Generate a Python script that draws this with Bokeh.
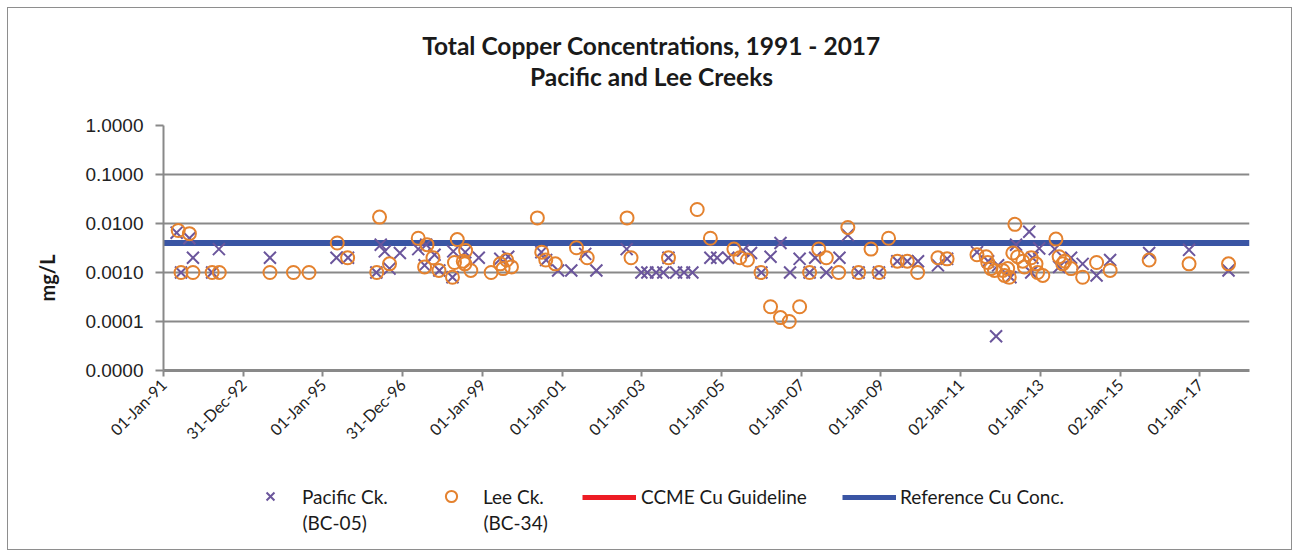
import math
from datetime import datetime
import pandas as pd
from bokeh.plotting import figure
from bokeh.layouts import column
from bokeh.models import (Range1d, FixedTicker, PrintfTickFormatter, DatetimeTickFormatter,
                          Legend, LegendItem, Label)
from bokeh.embed import file_html
from bokeh.resources import INLINE

# ---------------- data (decimal years, mg/L) ----------------
pacific_years = [1991.33, 1991.44, 1991.65, 1991.74, 1992.22, 1992.39, 1993.67, 1995.34, 1995.63,
                 1996.34, 1996.45, 1996.55, 1996.67, 1996.93, 1997.39, 1997.55, 1997.59, 1997.80,
                 1997.92, 1998.25, 1998.27, 1998.57, 1998.91, 1999.45, 1999.65, 2000.48, 2000.60,
                 2000.90, 2001.23, 2001.58, 2001.86, 2002.62, 2002.99, 2003.14, 2003.36, 2003.54,
                 2003.67, 2003.86, 2004.06, 2004.27, 2004.72, 2004.89, 2005.17, 2005.54, 2005.74,
                 2006.00, 2006.23, 2006.48, 2006.72, 2006.96, 2007.21, 2007.35, 2007.63, 2007.96,
                 2008.17, 2008.44, 2008.95, 2009.41, 2009.66, 2009.93, 2010.43, 2010.66, 2011.41,
                 2011.69, 2011.89, 2011.94, 2012.25, 2012.39, 2012.72, 2012.77, 2012.80, 2012.97,
                 2013.36, 2013.47, 2013.77, 2014.06, 2014.41, 2014.75, 2015.73, 2016.73, 2017.72]
pacific_cu = [0.0065, 0.001, 0.005, 0.002, 0.001, 0.003, 0.002, 0.002, 0.002,
              0.001, 0.0037, 0.0027, 0.0012, 0.0025, 0.003, 0.0014, 0.0037, 0.0023,
              0.0011, 0.0008, 0.0027, 0.0026, 0.002, 0.0019, 0.0021, 0.0026, 0.0018,
              0.0011, 0.0011, 0.0024, 0.0011, 0.003, 0.001, 0.001, 0.001, 0.001,
              0.002, 0.001, 0.001, 0.001, 0.002, 0.002, 0.002, 0.0028, 0.0025,
              0.001, 0.0021, 0.004, 0.001, 0.0019, 0.001, 0.002, 0.001, 0.002,
              0.0058, 0.001, 0.001, 0.0017, 0.0017, 0.0017, 0.0014, 0.0019, 0.0026,
              0.0017, 0.00005, 0.0014, 0.0008, 0.0037, 0.0068, 0.001, 0.002, 0.0031,
              0.003, 0.0013, 0.002, 0.0015, 0.00087, 0.0018, 0.0025, 0.0029, 0.0011]

lee_years = [1991.37, 1991.44, 1991.65, 1991.74, 1992.22, 1992.40, 1993.67, 1994.26, 1994.65,
             1995.36, 1995.62, 1996.35, 1996.42, 1996.67, 1997.39, 1997.55, 1997.61, 1997.76,
             1997.91, 1998.25, 1998.30, 1998.37, 1998.52, 1998.56, 1998.58, 1998.71, 1999.22,
             1999.45, 1999.52, 1999.61, 1999.73, 2000.38, 2000.49, 2000.59, 2000.83, 2001.36,
             2001.63, 2002.63, 2002.73, 2003.67, 2004.39, 2004.72, 2005.31, 2005.46, 2005.65,
             2005.99, 2006.23, 2006.48, 2006.70, 2006.96, 2007.21, 2007.44, 2007.63, 2007.94,
             2008.17, 2008.44, 2008.75, 2008.95, 2009.19, 2009.41, 2009.66, 2009.92, 2010.43,
             2010.66, 2011.41, 2011.64, 2011.68, 2011.76, 2011.85, 2012.06, 2012.10, 2012.18,
             2012.22, 2012.31, 2012.36, 2012.43, 2012.56, 2012.60, 2012.77, 2012.89, 2012.93,
             2013.06, 2013.39, 2013.47, 2013.56, 2013.61, 2013.77, 2014.06, 2014.41, 2014.75,
             2015.73, 2016.73, 2017.72]
lee_cu = [0.0072, 0.001, 0.0062, 0.001, 0.001, 0.001, 0.001, 0.001, 0.001,
          0.004, 0.002, 0.001, 0.0135, 0.0015, 0.005, 0.0013, 0.0037, 0.002,
          0.0011, 0.0008, 0.0016, 0.0047, 0.0017, 0.0015, 0.0028, 0.0011, 0.001,
          0.0015, 0.0012, 0.0018, 0.0013, 0.013, 0.0026, 0.0018, 0.0015, 0.0032,
          0.002, 0.013, 0.002, 0.002, 0.0193, 0.005, 0.003, 0.002, 0.0018,
          0.001, 0.0002, 0.00012, 0.0001, 0.0002, 0.001, 0.003, 0.002, 0.001,
          0.0083, 0.001, 0.003, 0.001, 0.005, 0.0017, 0.0017, 0.001, 0.002,
          0.0019, 0.0023, 0.0021, 0.0016, 0.0012, 0.0011, 0.0011, 0.00087, 0.0012,
          0.0008, 0.0025, 0.0096, 0.0021, 0.0017, 0.0013, 0.002, 0.0015, 0.001,
          0.00087, 0.0048, 0.0021, 0.0015, 0.0017, 0.0012, 0.0008, 0.0016, 0.0011,
          0.0018, 0.0015, 0.0015]

ref_dates = ["1991-01-01", "2018-04-01"]
ref_cu = [0.004, 0.004]
ccme_dates = []
ccme_cu = []

x_tick_labels = ["01-Jan-91", "31-Dec-92", "01-Jan-95", "31-Dec-96", "01-Jan-99", "01-Jan-01",
                 "01-Jan-03", "01-Jan-05", "01-Jan-07", "01-Jan-09", "02-Jan-11", "01-Jan-13",
                 "02-Jan-15", "01-Jan-17"]
y_ticks = [0.00001, 0.0001, 0.001, 0.01, 0.1, 1.0]

title_1 = "Total Copper Concentrations, 1991 - 2017"
title_2 = "Pacific and Lee Creeks"
y_title = "mg/L"
legend_labels = ["Pacific Ck.", "Lee Ck.", "CCME Cu Guideline", "Reference Cu Conc."]
legend_sublabels = ["(BC-05)", "(BC-34)"]


def to_dt(y):
    yr = int(y)
    start = datetime(yr, 1, 1)
    end = datetime(yr + 1, 1, 1)
    return start + (end - start) * (y - yr)


pac_dt = [to_dt(v) for v in pacific_years]
lee_dt = [to_dt(v) for v in lee_years]
ref_dt = list(pd.to_datetime(ref_dates))
ccme_dt = list(pd.to_datetime(ccme_dates)) if ccme_dates else []
epoch = pd.Timestamp("1970-01-01")
x_ticks = [(d - epoch).total_seconds() * 1000.0 for d in pd.to_datetime(x_tick_labels, format="%d-%b-%y")]

GRID = "#898989"
FONT = "Lato"
TXT = "#1a1a1a"
PURPLE = "#6b569c"
ORANGE = "#e4822f"
BLUE = "#3a55a4"
RED = "#ed1c24"


def strip(height):
    f = figure(width=1283, height=height, output_backend="svg", toolbar_location=None,
               x_range=Range1d(0, 1), y_range=Range1d(0, 1), min_border=0)
    f.axis.visible = False
    f.grid.visible = False
    f.outline_line_color = None
    return f


# ---------------- title strip ----------------
tf = strip(102)
for txt, yy in ((title_1, 65), (title_2, 34)):
    tf.add_layout(Label(x=488, y=yy, x_units="screen", y_units="screen", text=txt,
                        text_align="center", text_baseline="middle", text_font=FONT,
                        text_font_size="24.5px", text_font_style="bold", text_color=TXT))

# ---------------- main plot ----------------
p = figure(width=1283, height=342, x_axis_type="datetime", y_axis_type="log", title=None,
           x_range=Range1d(ref_dt[0], ref_dt[1]), y_range=Range1d(y_ticks[0], y_ticks[-1]),
           output_backend="svg", toolbar_location=None,
           min_border_left=155, min_border_right=42, min_border_top=15, min_border_bottom=80)
p.outline_line_color = None
p.background_fill_color = "white"

p.xgrid.visible = False
p.ygrid.ticker = FixedTicker(ticks=y_ticks, minor_ticks=[])
p.ygrid.grid_line_color = GRID
p.ygrid.grid_line_width = 2

yax = p.yaxis[0]
yax.ticker = FixedTicker(ticks=y_ticks, minor_ticks=[])
yax.formatter = PrintfTickFormatter(format="%.4f")
yax.axis_line_color = GRID
yax.axis_line_width = 2
yax.major_tick_line_color = GRID
yax.major_tick_line_width = 2
yax.major_tick_out = 8
yax.major_tick_in = 0
yax.minor_tick_line_color = None
yax.major_label_text_font = "Liberation Sans"
yax.major_label_text_font_size = "19px"
yax.major_label_text_color = "#222222"
yax.major_label_standoff = 12
# trailing em spaces push the visible title down along the axis, as in the reference
yax.axis_label = y_title + "\u2003" * 4
yax.axis_label_text_font = FONT
yax.axis_label_text_font_size = "20px"
yax.axis_label_text_font_style = "bold"
yax.axis_label_text_color = TXT
yax.axis_label_standoff = 23

xax = p.xaxis[0]
xax.ticker = FixedTicker(ticks=x_ticks, minor_ticks=[])
fmt = "%d-%b-%y"
xax.formatter = DatetimeTickFormatter(microseconds=fmt, milliseconds=fmt, seconds=fmt, minsec=fmt,
                                      minutes=fmt, hourmin=fmt, hours=fmt, days=fmt, months=fmt, years=fmt)
xax.axis_line_color = GRID
xax.axis_line_width = 3
xax.major_tick_line_color = GRID
xax.major_tick_line_width = 2
xax.major_tick_out = 6
xax.major_tick_in = 0
xax.minor_tick_line_color = None
xax.major_label_orientation = math.pi / 4
xax.major_label_text_font = FONT
xax.major_label_text_font_size = "16px"
xax.major_label_text_color = "#222222"
xax.major_label_standoff = 5

ccme = p.line(x=ccme_dt, y=ccme_cu, line_color=RED, line_width=5)
ref = p.line(x=ref_dt, y=ref_cu, line_color=BLUE, line_width=6)
pac = p.scatter(x=pac_dt, y=pacific_cu, marker="x", size=17, line_color=PURPLE, line_width=2)
lee = p.scatter(x=lee_dt, y=lee_cu, marker="circle", size=13, fill_color=None,
                line_color=ORANGE, line_width=2)

# ---------------- legend strip (separate figure so the legend is not clipped) ----------------
lf = strip(97)
# proxies for the legend glyphs: same series, but far outside this strip's 0..1 ranges
l_pac = lf.scatter(x=pacific_years, y=pacific_years, marker="x", size=15, line_color=PURPLE, line_width=2)
l_lee = lf.scatter(x=lee_years, y=lee_years, marker="circle", size=11, fill_color=None,
                   line_color=ORANGE, line_width=2)
l_ccme = lf.line(x=lee_years, y=lee_years, line_color=RED, line_width=5)
l_ref = lf.line(x=pacific_years, y=pacific_years, line_color=BLUE, line_width=5)


def make_legend(label, rend, loc, gw, gh, standoff):
    lg = Legend(items=[LegendItem(label=label, renderers=[rend])], location=loc,
                orientation="horizontal", border_line_color=None, background_fill_alpha=0,
                padding=0, margin=0, spacing=0, glyph_width=gw, glyph_height=gh,
                label_standoff=standoff, label_text_font=FONT, label_text_font_size="19px",
                label_text_color=TXT, label_height=20)
    lf.add_layout(lg, "center")


make_legend(legend_labels[0], l_pac, (93, 39), 28, 28, 18)
make_legend(legend_labels[1], l_lee, (274, 39), 28, 28, 18)
make_legend(legend_labels[2], l_ccme, (419, 41), 54, 20, 5)
make_legend(legend_labels[3], l_ref, (679, 41), 54, 20, 4)
for txt, xx in zip(legend_sublabels, (139, 320)):
    lf.add_layout(Label(x=xx, y=27, x_units="screen", y_units="screen", text=txt,
                        text_baseline="middle", text_font=FONT, text_font_size="19px",
                        text_color=TXT))

layout = column(tf, p, lf, spacing=0,
                styles={"border": "1px solid #8e8e8e", "margin": "7px 0 0 7px"})

open("out.html", "w").write(file_html(layout, INLINE))
